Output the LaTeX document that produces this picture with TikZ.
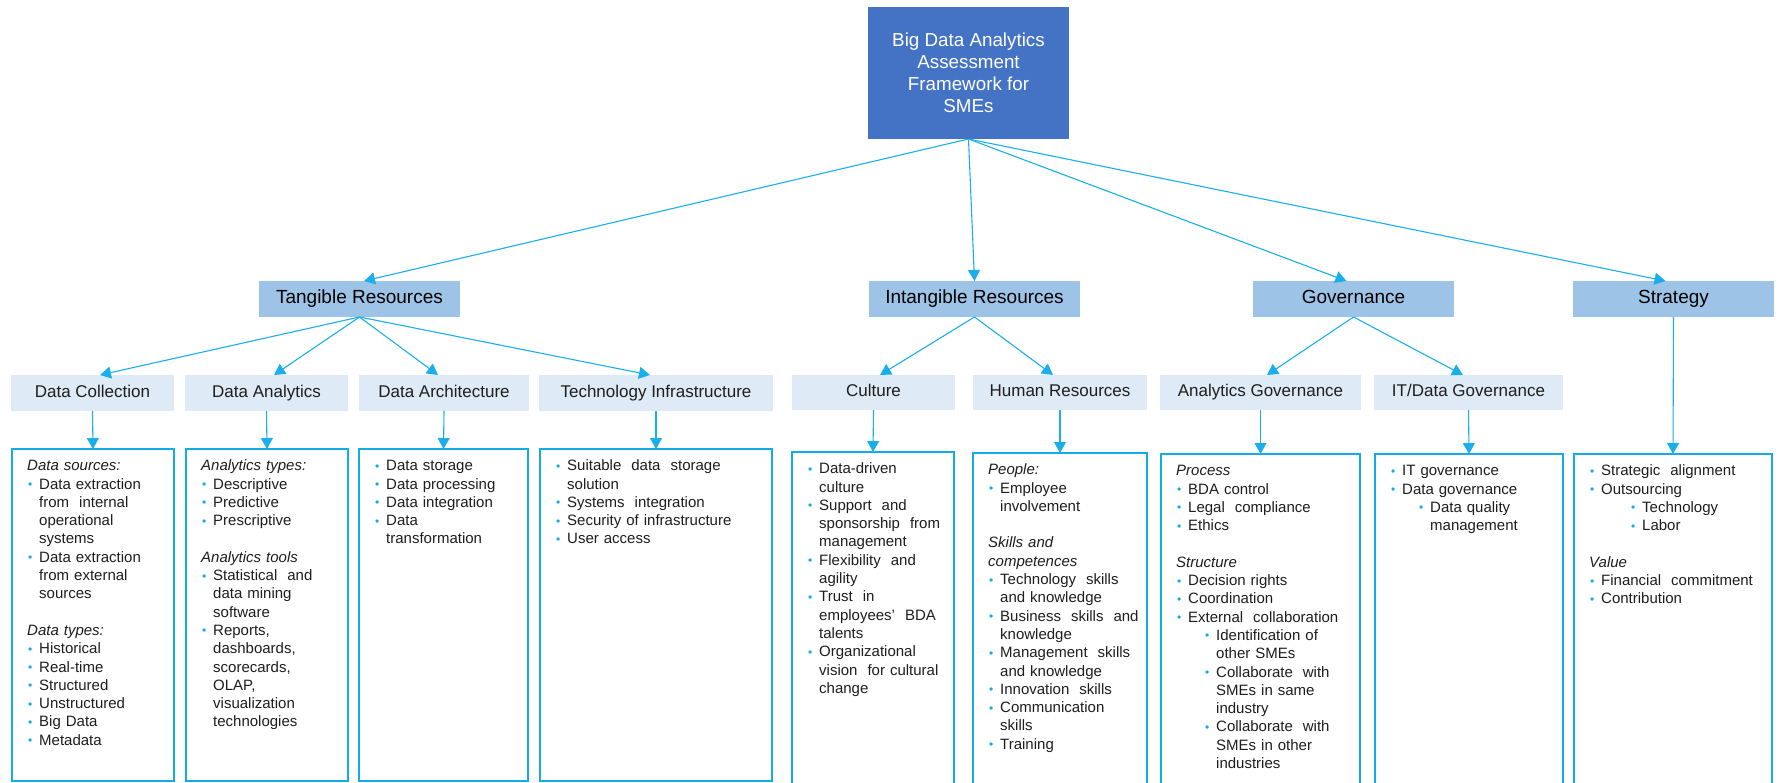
\documentclass[tikz,border=0pt]{standalone}
\usepackage{fontspec}
\setmainfont{Liberation Sans}
\usetikzlibrary{arrows.meta}

\definecolor{rootfill}{HTML}{4472C4}
\definecolor{topfill}{HTML}{9DC3E6}
\definecolor{subfill}{HTML}{DEEBF7}
\definecolor{linkclr}{HTML}{1AAFEA}
\definecolor{frameclr}{HTML}{13ACE8}
\definecolor{txt}{HTML}{1E1E1E}

% list helpers for the detail frames
\newcommand\bulmark{\raisebox{0.5pt}{\textcolor{frameclr}{\fontsize{12}{12}\selectfont •}}}
\newcommand\HD[1]{\par\leftskip=0pt\rightskip=0pt plus 1fil\noindent\textit{#1}}
\newcommand\LI[1]{\par\leftskip=12pt\rightskip=0pt plus 1fil\noindent\llap{\makebox[11pt][l]{\bulmark}}#1}
\newcommand\LII[1]{\par\leftskip=40pt\rightskip=0pt plus 1fil\noindent\llap{\makebox[11pt][l]{\bulmark}}#1}
\newcommand\LIII[1]{\par\leftskip=53pt\rightskip=0pt plus 1fil\noindent\llap{\makebox[11pt][l]{\bulmark}}#1}
\newcommand\GAP{\par\vspace{18.3pt}}

\tikzset{
  rootbox/.style={fill=rootfill, text=white, font=\fontsize{18.8}{22}\selectfont,
    align=center, inner sep=0, outer sep=0, anchor=north west},
  topbox/.style={fill=topfill, text=black, font=\fontsize{19}{22}\selectfont,
    inner sep=0, outer sep=0, anchor=north west},
  subbox/.style={fill=subfill, text=txt, font=\fontsize{17}{20}\selectfont,
    inner sep=0, outer sep=0, anchor=north west},
  framebox/.style={draw=frameclr, line width=2pt, fill=white,
    inner sep=0, outer sep=0, anchor=north west},
  body/.style={anchor=base west, inner sep=0, text width=260pt, text=txt,
    font=\fontsize{15}{18.3}\selectfont},
  conn/.style={draw=linkclr, line width=1.1pt,
    -{Triangle[length=11pt,width=12pt]}},
}

\begin{document}
\begin{tikzpicture}[x=1pt,y=-1pt]
\useasboundingbox (0,0) rectangle (1779,783);
\clip (0,0) rectangle (1779,783);

% root
\node[rootbox, minimum width=201pt, minimum height=132pt] (root) at (868,7)
  {Big Data Analytics\\Assessment\\Framework for\\SMEs};

% first level
\node[topbox, minimum width=201pt, minimum height=36pt] (tang) at (259,281) {Tangible Resources};
\node[topbox, minimum width=211pt, minimum height=36pt] (intang) at (869,281) {Intangible Resources};
\node[topbox, minimum width=201pt, minimum height=36pt] (gov) at (1253,281) {Governance\vphantom{g}};
\node[topbox, minimum width=201pt, minimum height=36pt] (strat) at (1573,281) {Strategy};

% second level
\node[subbox, minimum width=163pt, minimum height=36pt] (dc) at (11,375) {Data Collection\vphantom{y}};
\node[subbox, minimum width=163pt, minimum height=36pt] (da) at (185,375) {Data Analytics};
\node[subbox, minimum width=170pt, minimum height=36pt] (dar) at (359,375) {Data Architecture\vphantom{y}};
\node[subbox, minimum width=234pt, minimum height=36pt] (ti) at (539,375) {Technology Infrastructure};
\node[subbox, minimum width=163pt, minimum height=35pt] (cu) at (792,375) {Culture\vphantom{y}};
\node[subbox, minimum width=174pt, minimum height=35pt] (hr) at (973,375) {Human Resources\vphantom{y}};
\node[subbox, minimum width=201pt, minimum height=35pt] (ag) at (1160,375) {Analytics Governance};
\node[subbox, minimum width=189pt, minimum height=35pt] (itg) at (1374,375) {IT/Data Governance\vphantom{y}};

% detail frames
\node[framebox, minimum width=162pt, minimum height=332pt] (dcF) at (12,449) {};
\node[framebox, minimum width=162pt, minimum height=332pt] (daF) at (186,449) {};
\node[framebox, minimum width=169pt, minimum height=332pt] (darF) at (359,449) {};
\node[framebox, minimum width=232pt, minimum height=332pt] (tiF) at (540,449) {};
\node[framebox, minimum width=162pt, minimum height=360pt] (cuF) at (792,452) {};
\node[framebox, minimum width=174pt, minimum height=360pt] (hrF) at (973,453) {};
\node[framebox, minimum width=199pt, minimum height=360pt] (agF) at (1161,454) {};
\node[framebox, minimum width=188pt, minimum height=360pt] (itF) at (1375,454) {};
\node[framebox, minimum width=198pt, minimum height=360pt] (stF) at (1574,454) {};

% frame contents
\node[body] (dcT) at ([shift={(15,3.4)}]dcF.north west) {%
  \HD{Data sources:}
  \LI{Data extraction\newline from\ \ internal\newline operational\newline systems}
  \LI{Data extraction\newline from external\newline sources}
  \GAP
  \HD{Data types:}
  \LI{Historical}
  \LI{Real-time}
  \LI{Structured}
  \LI{Unstructured}
  \LI{Big Data}
  \LI{Metadata}\par};

\node[body] (daT) at ([shift={(15,3.4)}]daF.north west) {%
  \HD{Analytics types:}
  \LI{Descriptive}
  \LI{Predictive}
  \LI{Prescriptive}
  \GAP
  \HD{Analytics tools}
  \LI{Statistical\ \ and\newline data mining\newline software}
  \LI{Reports,\newline dashboards,\newline scorecards,\newline OLAP,\newline visualization\newline technologies}\par};

\node[body] (darT) at ([shift={(15,3.4)}]darF.north west) {%
  \LI{Data storage}
  \LI{Data processing}
  \LI{Data integration}
  \LI{Data\newline transformation}\par};

\node[body] (tiT) at ([shift={(15,3.4)}]tiF.north west) {%
  \LI{Suitable\ \ data\ \ storage\newline solution}
  \LI{Systems\ \ integration}
  \LI{Security of infrastructure}
  \LI{User access}\par};

\node[body] (cuT) at ([shift={(15,3.4)}]cuF.north west) {%
  \LI{Data-driven\newline culture}
  \LI{Support\ \ and\newline sponsorship\ \ from\newline management}
  \LI{Flexibility\ \ and\newline agility}
  \LI{Trust\ \ in\newline employees’\ \ BDA\newline talents}
  \LI{Organizational\newline vision\ \ for cultural\newline change}\par};

\node[body] (hrT) at ([shift={(15,3.4)}]hrF.north west) {%
  \HD{People:}
  \LI{Employee\newline involvement}
  \GAP
  \HD{Skills and\newline competences}
  \LI{Technology\ \ skills\newline and knowledge}
  \LI{Business\ \ skills\ \ and\newline knowledge}
  \LI{Management\ \ skills\newline and knowledge}
  \LI{Innovation\ \ skills}
  \LI{Communication\newline skills}
  \LI{Training}\par};

\node[body] (agT) at ([shift={(15,3.4)}]agF.north west) {%
  \HD{Process}
  \LI{BDA control}
  \LI{Legal\ \ compliance}
  \LI{Ethics}
  \GAP
  \HD{Structure}
  \LI{Decision rights}
  \LI{Coordination}
  \LI{External\ \ collaboration}
  \LII{Identification of\newline other SMEs}
  \LII{Collaborate\ \ with\newline SMEs in same\newline industry}
  \LII{Collaborate\ \ with\newline SMEs in other\newline industries}\par};

\node[body] (itT) at ([shift={(15,3.4)}]itF.north west) {%
  \LI{IT governance}
  \LI{Data governance}
  \LII{Data quality\newline management}\par};

\node[body] (stT) at ([shift={(15,3.4)}]stF.north west) {%
  \LI{Strategic\ \ alignment}
  \LI{Outsourcing}
  \LIII{Technology}
  \LIII{Labor}
  \GAP
  \HD{Value}
  \LI{Financial\ \ commitment}
  \LI{Contribution}\par};

% connectors: root to first level
\draw[conn] (root.south) -- ([xshift=4.5pt]tang.north);
\draw[conn] (root.south) -- (intang.north);
\draw[conn] (root.south) -- ([xshift=-7pt]gov.north);
\draw[conn] (root.south) -- ([xshift=-8pt]strat.north);

% first level to second level
\draw[conn] (tang.south) -- ([xshift=7.5pt]dc.north);
\draw[conn] (tang.south) -- ([xshift=7.5pt]da.north);
\draw[conn] (tang.south) -- ([xshift=-6pt]dar.north);
\draw[conn] (tang.south) -- ([xshift=-6pt]ti.north);
\draw[conn] (intang.south) -- ([xshift=6.5pt]cu.north);
\draw[conn] (intang.south) -- ([xshift=-7pt]hr.north);
\draw[conn] (gov.south) -- ([xshift=6.5pt]ag.north);
\draw[conn] (gov.south) -- ([xshift=-5.5pt]itg.north);
\draw[conn] (strat.south) -- (stF.north);

% second level to detail frames
\draw[conn] (dc.south) -- (dcF.north);
\draw[conn] (da.south) -- (daF.north);
\draw[conn] (dar.south) -- (darF.north);
\draw[conn] (ti.south) -- (tiF.north);
\draw[conn] (cu.south) -- (cuF.north);
\draw[conn] (hr.south) -- (hrF.north);
\draw[conn] (ag.south) -- (agF.north);
\draw[conn] (itg.south) -- (itF.north);
\end{tikzpicture}
\end{document}
